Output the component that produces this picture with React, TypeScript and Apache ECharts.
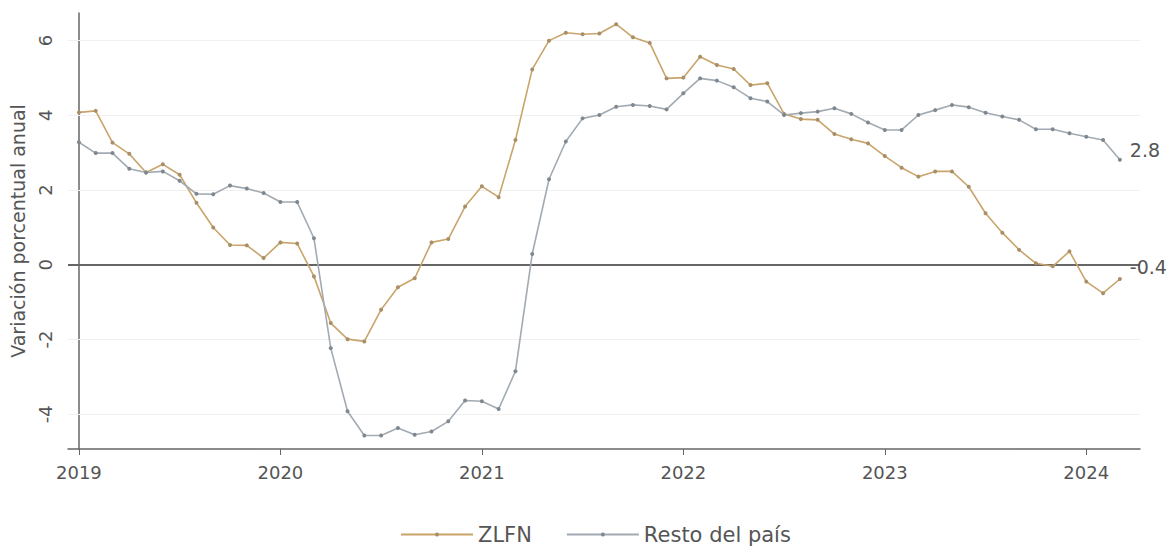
import React, { useEffect, useRef } from "react";
import * as echarts from "echarts";

const startYear = 2019;
const yearTicks = [2019, 2020, 2021, 2022, 2023, 2024];
const yTicks = [-4, -2, 0, 2, 4, 6];
const gridValues = [-4, -2, 2, 4, 6];

const zlfn = [
  4.08, 4.12, 3.27, 2.97, 2.47, 2.69, 2.41, 1.66, 1.0, 0.53, 0.52, 0.18,
  0.6, 0.57, -0.31, -1.56, -1.99, -2.05, -1.2, -0.6, -0.36, 0.6, 0.69, 1.56,
  2.1, 1.81, 3.34, 5.23, 6.0, 6.21, 6.17, 6.19, 6.44, 6.09, 5.94, 4.99,
  5.01, 5.57, 5.35, 5.24, 4.81, 4.86, 4.04, 3.9, 3.88, 3.5, 3.36, 3.25,
  2.91, 2.6, 2.36, 2.5, 2.5, 2.09, 1.38, 0.86, 0.4, 0.04, -0.04, 0.36,
  -0.45, -0.76, -0.38,
];

const resto = [
  3.28, 2.99, 2.99, 2.57, 2.47, 2.5, 2.25, 1.9, 1.89, 2.12, 2.04, 1.92,
  1.68, 1.68, 0.71, -2.23, -3.92, -4.57, -4.57, -4.37, -4.55, -4.46, -4.19, -3.63,
  -3.65, -3.86, -2.85, 0.29, 2.29, 3.3, 3.92, 4.01, 4.23, 4.28, 4.25, 4.16,
  4.59, 4.99, 4.93, 4.75, 4.46, 4.37, 4.01, 4.06, 4.1, 4.19, 4.04, 3.81,
  3.61, 3.61, 4.01, 4.14, 4.28, 4.22, 4.07, 3.97, 3.88, 3.63, 3.63, 3.52,
  3.43, 3.34, 2.81,
];

const FONT = "DejaVu Sans";

function buildData(values: number[], offset: number[]) {
  return values.map((v, i) => {
    if (i === values.length - 1) {
      return {
        value: [i, v],
        label: {
          show: true,
          position: "right",
          distance: 5,
          offset,
          formatter: () => v.toFixed(1),
          color: "#555",
          fontSize: 19,
          fontFamily: FONT,
        },
      };
    }
    return { value: [i, v] };
  });
}

export default function App() {
  const ref = useRef<HTMLDivElement>(null);
  useEffect(() => {
    if (!ref.current) return;
    const chart = echarts.init(ref.current, undefined, { renderer: "svg" });
    chart.setOption({
      animation: false,
      backgroundColor: "#ffffff",
      grid: { left: 65, right: 35, top: 13, bottom: 97 },
      legend: {
        top: 519,
        left: 395,
        itemWidth: 72,
        itemHeight: 5,
        itemGap: 34,
        textStyle: { fontFamily: FONT, fontSize: 21, color: "#555" },
        data: ["ZLFN", "Resto del país"],
      },
      xAxis: {
        type: "value",
        min: -0.65,
        max: 63.2,
        axisLine: { show: true, onZero: false, lineStyle: { color: "#666", width: 1.5 } },
        axisTick: {
          show: true,
          length: 6,
          customValues: yearTicks.map((y) => (y - startYear) * 12),
          lineStyle: { color: "#666" },
        },
        axisLabel: {
          customValues: yearTicks.map((y) => (y - startYear) * 12),
          formatter: (v: number) => String(startYear + Math.round(v / 12)),
          fontFamily: FONT,
          fontSize: 18,
          color: "#555",
          margin: 14,
        },
        splitLine: { show: false },
      },
      yAxis: {
        type: "value",
        min: -4.93,
        max: 6.74,
        name: "Variación porcentual anual",
        nameLocation: "middle",
        nameGap: 41,
        nameTextStyle: { fontFamily: FONT, fontSize: 19, color: "#555" },
        axisLine: { show: true, lineStyle: { color: "#666", width: 1.5 } },
        axisTick: {
          show: true,
          length: 6,
          customValues: yTicks,
          lineStyle: { color: "#666" },
        },
        axisLabel: {
          customValues: yTicks,
          rotate: 90,
          fontFamily: FONT,
          fontSize: 18,
          color: "#555",
          margin: 14,
          formatter: (v: number) => String(v),
        },
        splitLine: { show: false },
      },
      series: [
        {
          name: "ZLFN",
          type: "line",
          data: buildData(zlfn, [3, -12]),
          symbol: "circle",
          symbolSize: 4,
          showSymbol: true,
          lineStyle: { color: "#c9a46b", width: 1.6 },
          itemStyle: { color: "#a88f68" },
          z: 3,
          markLine: {
            silent: true,
            symbol: "none",
            label: { show: false },
            data: [
              ...gridValues.map((g) => ({
                yAxis: g,
                lineStyle: { color: "#f0f0f0", width: 1, type: "solid" },
              })),
              { yAxis: 0, lineStyle: { color: "#666", width: 2, type: "solid" } },
            ],
            z: 1,
          },
        },
        {
          name: "Resto del país",
          type: "line",
          data: buildData(resto, [3, -10]),
          symbol: "circle",
          symbolSize: 4,
          showSymbol: true,
          lineStyle: { color: "#a2aab2", width: 1.6 },
          itemStyle: { color: "#7f8890" },
          z: 4,
        },
      ],
    });
    return () => chart.dispose();
  }, []);
  return (
    <div
      ref={ref}
      style={{ position: "fixed", left: 0, top: 0, width: 1175, height: 546 }}
    />
  );
}
